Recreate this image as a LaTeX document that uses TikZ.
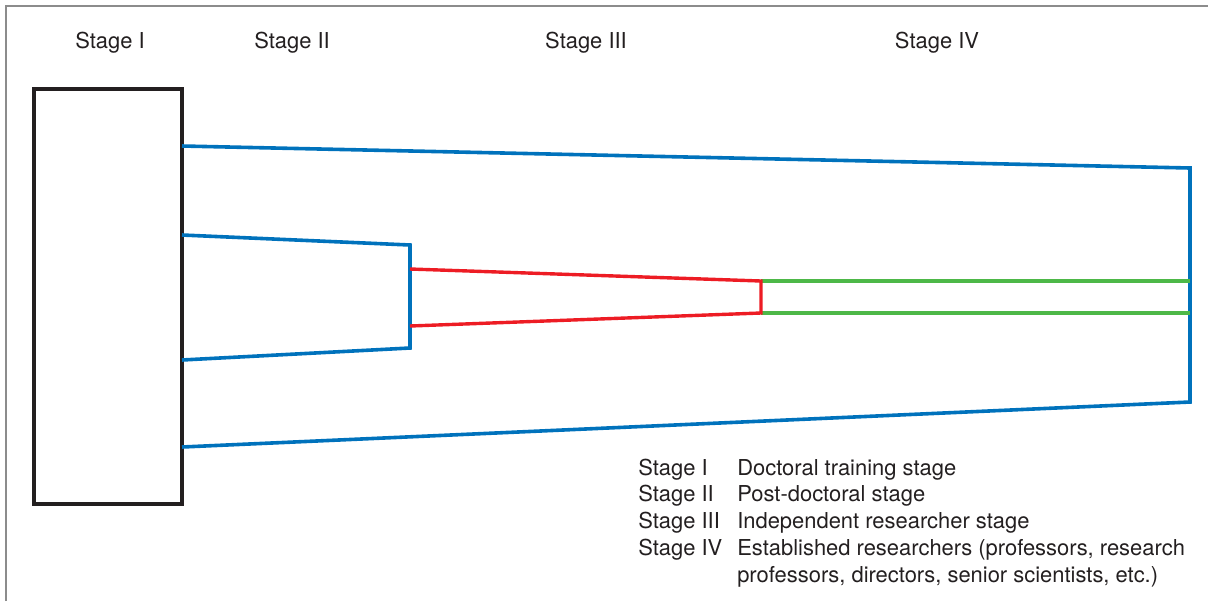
\documentclass[tikz,border=0pt]{standalone}
\usepackage{fontspec}
\setmainfont{TeX Gyre Heros}
\usetikzlibrary{positioning}

\definecolor{stageblue}{HTML}{0072BC}
\definecolor{stagered}{HTML}{ED1C24}
\definecolor{stagegreen}{HTML}{4DB848}
\definecolor{stageblack}{HTML}{231F20}
\definecolor{frame}{HTML}{8C8C8C}

\begin{document}
\begin{tikzpicture}[x=0.025cm,y=-0.025cm,line join=miter,
                label text/.style={font=\fontsize{15.6}{18.8}\selectfont,text=stageblack,inner sep=0pt},
                legend text/.style={label text,anchor=base west},
                blue line/.style={draw=stageblue,line width=0.09cm},
                red line/.style={draw=stagered,line width=0.085cm},
                green line/.style={draw=stagegreen,line width=0.085cm}]

  \useasboundingbox (0,0) rectangle (1208,601);
  \draw[frame,line width=0.045cm] (6,601) -- (6,6) -- (1208,6);

  \node[label text] (h1) at (110,43) {Stage I};
  \node[label text] (h2) at (292,43) {Stage II};
  \node[label text] (h3) at (586,43) {Stage III};
  \node[label text] (h4) at (937,43) {Stage IV};

  \node[draw=stageblack,line width=0.1cm,minimum width=148*0.025cm,
        minimum height=415*0.025cm,inner sep=0pt] (doc) at (108,296.5) {};

  \coordinate (p1) at (182,146);
  \coordinate (p2) at (1190,168);
  \coordinate (p3) at (1190,402);
  \coordinate (p4) at (182,447);
  \coordinate (q1) at (182,235);
  \coordinate (q2) at (410,245);
  \coordinate (q3) at (410,348);
  \coordinate (q4) at (182,360);
  \coordinate (r1) at (410,269);
  \coordinate (r2) at (761,281);
  \coordinate (r3) at (761,313);
  \coordinate (r4) at (410,326);
  \coordinate (g1) at (1190,281);
  \coordinate (g2) at (1190,313);

  \draw[blue line] (p1) -- (p2) -- (p3) -- (p4);
  \draw[blue line] (q1) -- (q2) -- (q3) -- (q4);
  \draw[green line] (r2) -- (g1);
  \draw[green line] (r3) -- (g2);
  \draw[red line] (r1) -- (r2) -- (r3) -- (r4);

  \node[legend text] (k1) at (638,475) {Stage I};
  \node[legend text] (k2) at (638,501) {Stage II};
  \node[legend text] (k3) at (638,528) {Stage III};
  \node[legend text] (k4) at (638,555) {Stage IV};
  \node[legend text] (d1) at (737,475) {Doctoral training stage};
  \node[legend text] (d2) at (737,501) {Post-doctoral stage};
  \node[legend text] (d3) at (737,528) {Independent researcher stage};
  \node[legend text] (d4) at (737,555) {Established researchers (professors, research};
  \node[legend text] (d5) at (737,582) {professors, directors, senior scientists, etc.)};

\end{tikzpicture}
\end{document}
